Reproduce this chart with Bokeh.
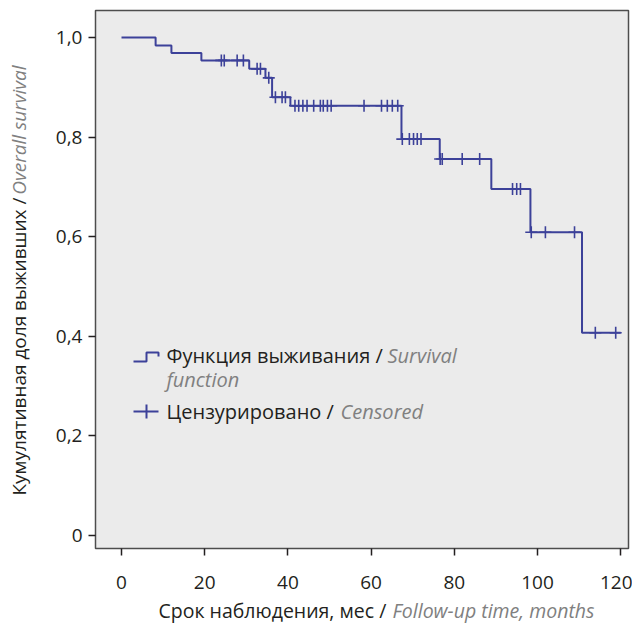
import numpy as np
from bokeh.plotting import figure
from bokeh.models import Label, FixedTicker, CustomJSTickFormatter, LinearAxis, BoxAnnotation
from bokeh.embed import file_html
from bokeh.resources import INLINE

# ---- data ----
step_times = [0, 8.2, 12.0, 19.2, 30.7, 34.6, 36.2, 40.6, 67.3, 76.5, 88.9, 98.3, 110.7]
step_surv = [1.0, 0.984, 0.969, 0.954, 0.937, 0.919, 0.880, 0.863, 0.796, 0.756, 0.696, 0.609, 0.407]
end_time = 120.0
censor_times = [24.0, 24.7, 27.8, 29.3,
                32.6, 33.4,
                35.4,
                37.0, 38.6, 39.4,
                41.7, 42.6, 43.6, 44.6, 46.2, 47.8, 48.5, 49.5, 50.4, 58.3, 62.5, 63.9, 65.1, 66.4,
                67.5, 69.2, 70.2, 71.1, 72.0,
                76.6, 77.1, 81.9, 86.1,
                94.0, 95.0, 95.9,
                98.5, 101.9, 108.9,
                113.9, 118.8]
x_ticks = [0, 20, 40, 60, 80, 100, 120]
y_ticks = [0, 0.2, 0.4, 0.6, 0.8, 1.0]

x_title_ru = "Срок наблюдения, мес /"
x_title_en = "Follow-up time, months"
y_title_ru = "Кумулятивная доля выживших /"
y_title_en = "Overall survival"
leg1_ru = "Функция выживания /"
leg1_en = "Survival"
leg1_en2 = "function"
leg2_ru = "Цензурировано /"
leg2_en = "Censored"

# ---- style ----
LINE = "#3c4199"
BG = "#ebebeb"
TXT = "#231f20"
GRAY = "#808080"
FRAME = "#4d4d4d"
FONT = "Open Sans"
FS_TICK = "19px"
FS_YT = "19px"
FS_XT = "19.5px"
FS_LEG = "20px"

W, H = 632, 626
# canvas pixel -> data helpers (t=0 at px 121, 4.16 px per month; s=1 at py 37, 498 px per unit)
def dx(px):
    return (px - 121.0) / 4.16

def dy(py):
    return (535.0 - py) / 498.0

p = figure(width=W, height=H, output_backend="svg", toolbar_location=None,
           x_range=(dx(0), dx(W)), y_range=(dy(H), dy(0)),
           x_axis_location=None, y_axis_location=None,
           min_border=0, min_border_left=0, min_border_right=0,
           min_border_top=0, min_border_bottom=0)
p.background_fill_color = "white"
p.border_fill_color = "white"
p.outline_line_color = None
p.grid.visible = False

# plot area box
x_lo, x_hi = dx(95), dx(628)
y_lo, y_hi = dy(548), dy(10)
p.add_layout(BoxAnnotation(left=x_lo, right=x_hi, bottom=y_lo, top=y_hi,
                           fill_color=BG, fill_alpha=1.0, line_color=FRAME,
                           line_width=1.5, line_alpha=1.0, level="underlay"))

xaxis = LinearAxis(fixed_location=y_lo, ticker=FixedTicker(ticks=x_ticks))
yaxis = LinearAxis(fixed_location=x_lo, ticker=FixedTicker(ticks=y_ticks),
                   formatter=CustomJSTickFormatter(
                       code="return tick == 0 ? '0' : tick.toFixed(1).replace('.', ',');"))
for ax in (xaxis, yaxis):
    ax.axis_line_color = None
    ax.major_tick_line_color = TXT
    ax.major_tick_line_width = 1.5
    ax.major_tick_out = 7
    ax.major_tick_in = 0
    ax.minor_tick_line_color = None
    ax.major_label_text_font = FONT
    ax.major_label_text_font_size = FS_TICK
    ax.major_label_text_color = TXT
xaxis.major_label_standoff = 20
yaxis.major_label_standoff = 6
p.add_layout(xaxis, "below")
p.add_layout(yaxis, "left")

# survival step function
xs = list(step_times) + [end_time]
ys = list(step_surv) + [step_surv[-1]]
p.step(xs, ys, mode="after", line_color=LINE, line_width=2)

# censored marks on the curve
ct = np.array(censor_times)
idx = np.searchsorted(np.array(step_times), ct, side="right") - 1
cs = np.array(step_surv)[idx]
p.scatter(ct, cs, marker="cross", size=12, line_color=LINE, line_width=1.6)

def lab(x, y, t, size, italic=False, align="left", angle=0):
    p.add_layout(Label(x=x, y=y, text=t, text_font=FONT, text_font_size=size,
                       text_font_style="italic" if italic else "normal",
                       text_color=GRAY if italic else TXT,
                       text_align=align, text_baseline="middle",
                       angle=angle, angle_units="deg"))

# axis titles
lab(dx(158), dy(610), x_title_ru, FS_XT)
lab(dx(392), dy(610), x_title_en, FS_XT, italic=True)
lab(dx(18), dy(495), y_title_ru, FS_YT, angle=90)
lab(dx(18), dy(65), y_title_en, FS_YT, italic=True, align="right", angle=90)

# legend
p.line([dx(133), dx(146), dx(146), dx(158), dx(158)],
       [dy(361), dy(361), dy(352), dy(352), dy(356)], line_color=LINE, line_width=2)
lab(dx(166), dy(355), leg1_ru, FS_LEG)
lab(dx(387), dy(355), leg1_en, FS_LEG, italic=True)
lab(dx(166), dy(379), leg1_en2, FS_LEG, italic=True)
p.line([dx(133), dx(158)], [dy(411), dy(411)], line_color=LINE, line_width=2)
p.line([dx(146), dx(146)], [dy(404), dy(418)], line_color=LINE, line_width=2)
lab(dx(166), dy(411), leg2_ru, FS_LEG)
lab(dx(340), dy(411), leg2_en, FS_LEG, italic=True)

open("out.html", "w").write(file_html(p, INLINE))
